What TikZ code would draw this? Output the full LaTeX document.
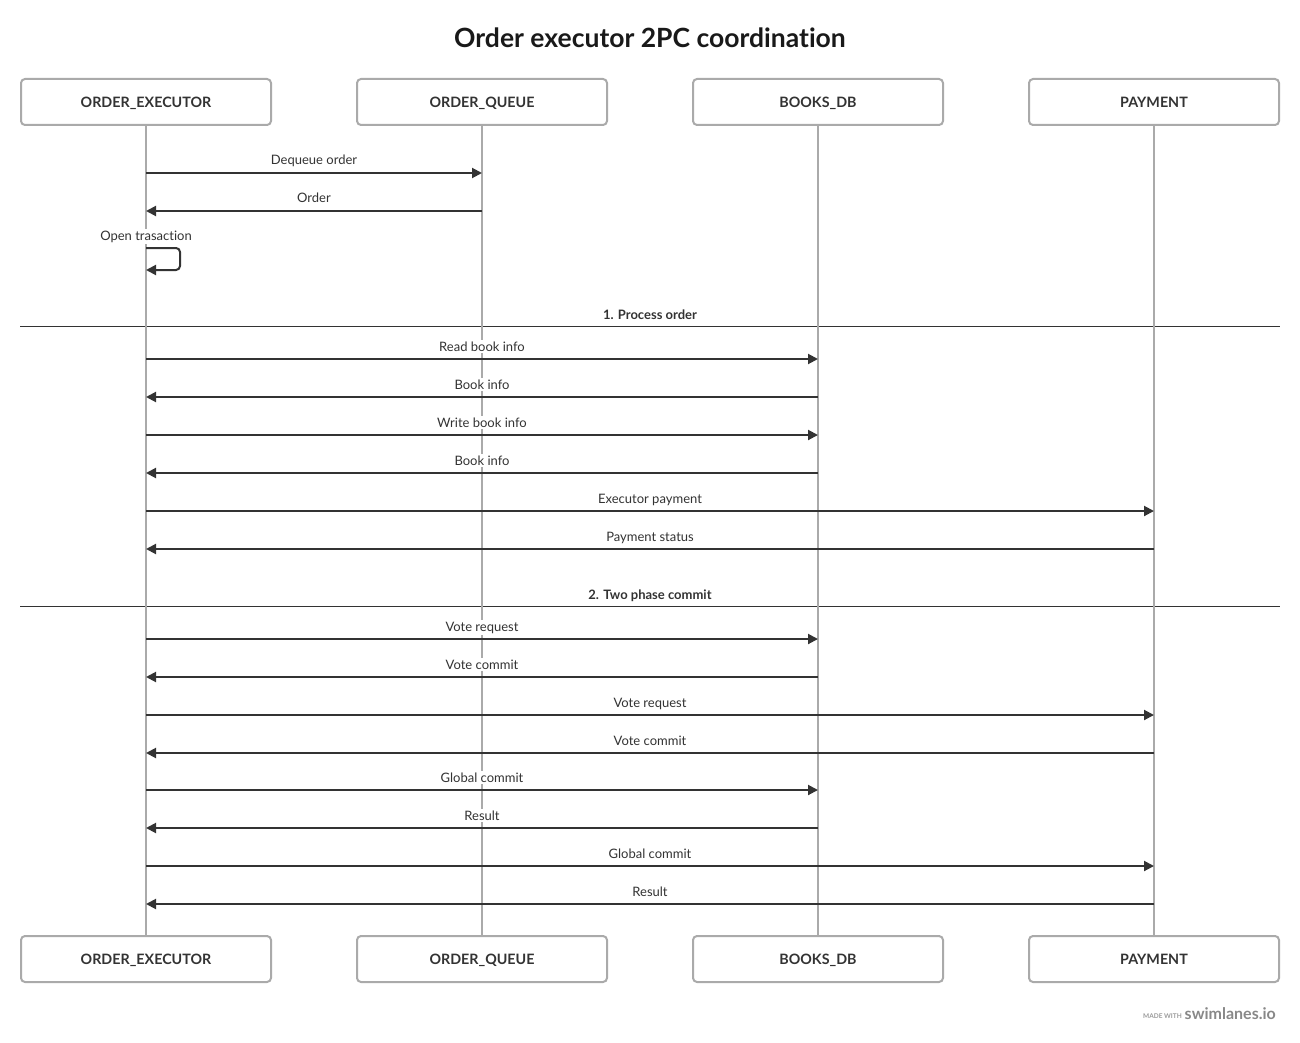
\documentclass[tikz,border=0pt]{standalone}
\usepackage{fontspec}
\setmainfont[Ligatures={NoCommon,NoDiscretionary,NoRare}]{Lato}
\usetikzlibrary{arrows.meta}
\definecolor{ink}{HTML}{333333}
\definecolor{lane}{HTML}{AAAAAA}
\definecolor{foot}{HTML}{888888}
\newcommand\Msg[5]{%
  \coordinate (#1a) at (#3,#2);
  \coordinate (#1b) at (#4,#2);
  \node[lbl] (#1l) at ({(#3+#4)/2},#2-8) {#5};
  \draw[msg] (#1a) -- (#1b);
}
\begin{document}
\begin{tikzpicture}[x=1pt,y=-1pt,
  actor/.style={draw=lane, line width=2pt, rounded corners=4pt, minimum width=250pt,
    minimum height=46pt, inner sep=0pt, fill=white, text=ink,
    text height=10.2pt, text depth=0pt,
    font=\bfseries\fontsize{14.3}{16}\selectfont},
  lifeline/.style={draw=lane, line width=2pt},
  msg/.style={draw=ink, line width=2pt, -{Triangle[length=10pt,width=10pt]}},
  lbl/.style={fill=white, inner sep=1.5pt, text=ink, anchor=base,
    font=\fontsize{13}{15}\selectfont},
  seclbl/.style={inner sep=1pt, text=ink, anchor=base,
    font=\bfseries\fontsize{13}{15}\selectfont},
  divider/.style={draw=ink, line width=1pt}]
\fill[white] (0,0) rectangle (1300,1043);
\useasboundingbox (0,0) rectangle (1300,1043);
% title
\node[font=\bfseries\fontsize{26.5}{30}\selectfont, text=black!90] (title) at (650,38) {Order executor 2PC coordination};
% section dividers
\coordinate (s1a) at (20,326); \coordinate (s1b) at (1280,326);
\coordinate (s2a) at (20,606); \coordinate (s2b) at (1280,606);
\draw[divider] (s1a) -- (s1b);
\draw[divider] (s2a) -- (s2b);
\node[seclbl] (s1l) at (650,319) {1. Process order};
\node[seclbl] (s2l) at (650,599) {2. Two phase commit};
% actors
\node[actor] (oeT) at (146,102) {ORDER\_EXECUTOR};
\node[actor] (oqT) at (482,102) {ORDER\_QUEUE};
\node[actor] (bdT) at (818,102) {BOOKS\_DB};
\node[actor] (pyT) at (1154,102) {PAYMENT};
\node[actor] (oeB) at (146,959) {ORDER\_EXECUTOR};
\node[actor] (oqB) at (482,959) {ORDER\_QUEUE};
\node[actor] (bdB) at (818,959) {BOOKS\_DB};
\node[actor] (pyB) at (1154,959) {PAYMENT};
% lifelines
\draw[lifeline] (oeT.south) -- (oeB.north);
\draw[lifeline] (oqT.south) -- (oqB.north);
\draw[lifeline] (bdT.south) -- (bdB.north);
\draw[lifeline] (pyT.south) -- (pyB.north);
% messages
\Msg{m1}{173}{146}{482}{Dequeue order}
\Msg{m2}{211}{482}{146}{Order}
% self loop
\coordinate (ot1) at (146,248); \coordinate (ot2) at (146,270);
\node[lbl] (otl) at (146,240) {Open trasaction};
\draw[msg, rounded corners=4pt] (ot1) -- ++(34,0) |- (ot2);
\Msg{m3}{359}{146}{818}{Read book info}
\Msg{m4}{397}{818}{146}{Book info}
\Msg{m5}{435}{146}{818}{Write book info}
\Msg{m6}{473}{818}{146}{Book info}
\Msg{m7}{511}{146}{1154}{Executor payment}
\Msg{m8}{549}{1154}{146}{Payment status}
\Msg{m9}{639}{146}{818}{Vote request}
\Msg{m10}{677}{818}{146}{Vote commit}
\Msg{m11}{715}{146}{1154}{Vote request}
\Msg{m12}{753}{1154}{146}{Vote commit}
\Msg{m13}{790}{146}{818}{Global commit}
\Msg{m14}{828}{818}{146}{Result}
\Msg{m15}{866}{146}{1154}{Global commit}
\Msg{m16}{904}{1154}{146}{Result}
% footer
\node[anchor=base east, inner sep=0pt, text=foot, font=\bfseries\fontsize{16}{18}\selectfont] (sw) at (1276,1019) {swimlanes.io};
\node[anchor=base east, inner sep=0pt, text=foot!85, font=\bfseries\fontsize{6.5}{8}\selectfont] (mw) at (1182,1018) {MADE WITH};
\end{tikzpicture}
\end{document}
